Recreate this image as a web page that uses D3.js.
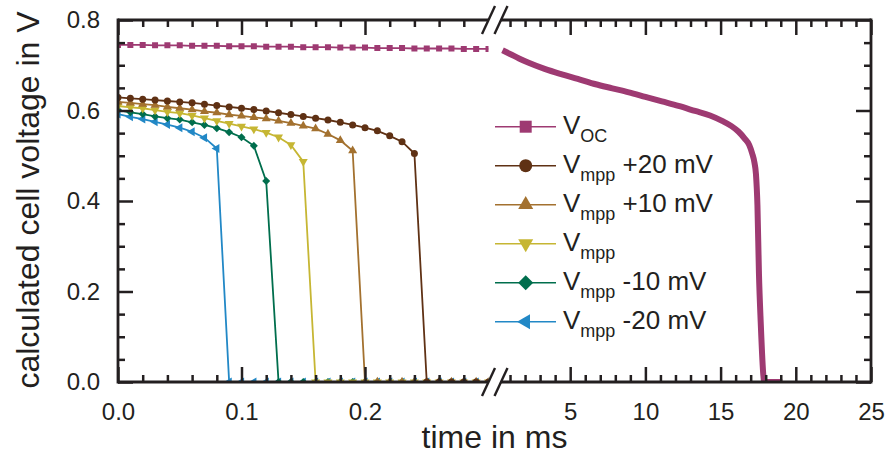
<!DOCTYPE html>
<html>
<head>
<meta charset="utf-8">
<script src="https://cdn.jsdelivr.net/npm/d3@7"></script>
<style>
  html, body { margin: 0; padding: 0; background: #fff; }
  svg { display: block; }
  text { font-family: "Liberation Sans", Arial, Helvetica, sans-serif; fill: #231f20; white-space: pre; }
</style>
</head>
<body>
<svg id="chart" width="890" height="457"></svg>
<script>
// ---- data -------------------------------------------------------------
// time grid of the short-time window (ms)
const tShort = [0.00, 0.01, 0.02, 0.03, 0.04, 0.05, 0.06, 0.07, 0.08, 0.09,
                0.10, 0.11, 0.12, 0.13, 0.14, 0.15, 0.16, 0.17, 0.18, 0.19,
                0.20, 0.21, 0.22, 0.23, 0.24, 0.25, 0.26, 0.27, 0.28, 0.29, 0.30];

// cell voltage (V) on the short-time grid
const vOC = [0.745, 0.745, 0.745, 0.744, 0.744, 0.744, 0.743, 0.743, 0.743, 0.742,
             0.742, 0.742, 0.741, 0.741, 0.741, 0.740, 0.740, 0.740, 0.739, 0.739,
             0.739, 0.738, 0.738, 0.738, 0.737, 0.737, 0.737, 0.737, 0.736, 0.736, 0.736];
const vMppP20 = [0.629, 0.627, 0.625, 0.623, 0.621, 0.619, 0.617, 0.614, 0.611, 0.608,
                 0.605, 0.602, 0.599, 0.595, 0.591, 0.587, 0.583, 0.579, 0.574, 0.568,
                 0.562, 0.555, 0.544, 0.531, 0.505, 0, 0, 0, 0, 0, 0];
const vMppP10 = [0.619, 0.617, 0.614, 0.612, 0.608, 0.605, 0.602, 0.598, 0.595, 0.591,
                 0.588, 0.585, 0.582, 0.577, 0.572, 0.566, 0.560, 0.548, 0.534, 0.511,
                 0, 0, 0, 0, 0, 0, 0, 0, 0, 0, 0];
const vMpp = [0.610, 0.607, 0.605, 0.601, 0.597, 0.594, 0.589, 0.583, 0.577, 0.571,
              0.565, 0.559, 0.551, 0.541, 0.524, 0.487, 0, 0, 0, 0,
              0, 0, 0, 0, 0, 0, 0, 0, 0, 0, 0];
const vMppM10 = [0.601, 0.596, 0.592, 0.587, 0.583, 0.580, 0.574, 0.568, 0.561, 0.552,
                 0.541, 0.522, 0.444, 0, 0, 0, 0, 0, 0, 0,
                 0, 0, 0, 0, 0, 0, 0, 0, 0, 0, 0];
const vMppM20 = [0.592, 0.586, 0.581, 0.575, 0.569, 0.562, 0.553, 0.540, 0.516, 0,
                 0, 0, 0, 0, 0, 0, 0, 0, 0, 0,
                 0, 0, 0, 0, 0, 0, 0, 0, 0, 0, 0];

// open-circuit voltage over the long-time window
const tLong = [0.5, 1.0, 1.6, 2.2, 3.3, 4.45, 5.5, 6.7, 7.8, 8.9, 10.0, 11.1, 12.2, 13.3, 14.3,
               15.1, 15.7, 16.2, 16.6, 16.9, 17.1, 17.25, 17.35, 17.45, 17.55, 17.67,
               17.85, 17.9, 19.1];
const vOCLong = [0.733, 0.725, 0.715, 0.706, 0.692, 0.680, 0.670, 0.658, 0.649, 0.640, 0.630,
                 0.620, 0.610, 0.599, 0.589, 0.577, 0.566, 0.553, 0.538, 0.524, 0.505,
                 0.485, 0.460, 0.390, 0.240, 0.130, 0.012, 0, 0];

// legend / series description
const seriesMain = ["V", "V", "V", "V", "V", "V"];
const seriesSub = ["OC", "mpp", "mpp", "mpp", "mpp", "mpp"];
const seriesSuffix = ["", " +20 mV", " +10 mV", "", " -10 mV", " -20 mV"];
const seriesColors = ["#9e3a72", "#5f3114", "#a3712f", "#c6b633", "#006e4d", "#2288c6"];
const seriesMarkers = ["square", "circle", "up", "down", "diamond", "left"];
const seriesValues = [vOC, vMppP20, vMppP10, vMpp, vMppM10, vMppM20];

// axis ticks
const yMajor = [0, 0.2, 0.4, 0.6, 0.8];
const yMinor = [0.05, 0.1, 0.15, 0.25, 0.3, 0.35, 0.45, 0.5, 0.55, 0.65, 0.7, 0.75];
const xShortMajor = [0, 0.1, 0.2];
const xShortMinor = [0.02, 0.04, 0.06, 0.08, 0.12, 0.14, 0.16, 0.18, 0.22, 0.24, 0.26, 0.28];
const xLongMajor = [5, 10, 15, 20, 25];
const xLongMinor = [1, 2, 3, 4, 6, 7, 8, 9, 11, 12, 13, 14, 16, 17, 18, 19, 21, 22, 23, 24];

// ---- layout -----------------------------------------------------------
const ink = "#231f20";
const pTop = 20, pBottom = 382, pLeft = 118, pRight = 871;
const breakL = 488.5, breakR = 501;

const svg = d3.select("#chart");
const y = d3.scaleLinear().domain([0, 0.8]).range([pBottom, pTop]);
const xS = d3.scaleLinear().domain([0, 0.3]).range([pLeft, breakL]);
const xL = d3.scaleLinear().domain([0.4, 25]).range([breakR, pRight]);

const defs = svg.append("defs");
defs.append("clipPath").attr("id", "clipS").append("rect")
  .attr("x", pLeft).attr("y", pTop - 10).attr("width", breakL - pLeft).attr("height", pBottom - pTop + 10);
defs.append("clipPath").attr("id", "clipL").append("rect")
  .attr("x", breakR).attr("y", pTop - 10).attr("width", pRight - breakR).attr("height", pBottom - pTop + 10);

// marker shapes
function markerPath(kind, s) {
  switch (kind) {
    case "square": return d3.symbol(d3.symbolSquare, s * s)();
    case "circle": return d3.symbol(d3.symbolCircle, Math.PI * s * s / 4)();
    case "diamond": return d3.symbol(d3.symbolSquare, s * s * 0.5)();
    default: return d3.symbol(d3.symbolTriangle, s * s * Math.sqrt(3) / 4)();
  }
}
function markerRotation(kind) {
  return { diamond: 45, down: 180, left: -90 }[kind] || 0;
}
const markerSize = { square: 6, circle: 7, up: 9, down: 9, diamond: 8, left: 9 };

// ---- series (short window) -------------------------------------------
const plotS = svg.append("g").attr("clip-path", "url(#clipS)");
const lineS = d3.line().x((d, i) => xS(tShort[i])).y(d => y(d));

function drawSeries(k) {
  const vals = seriesValues[k];
  const g = plotS.append("g");
  g.append("path").datum(vals)
    .attr("d", lineS).attr("fill", "none")
    .attr("stroke", seriesColors[k]).attr("stroke-width", 1.8);
  const kind = seriesMarkers[k];
  g.selectAll("path.mk").data(vals).join("path").attr("class", "mk")
    .attr("d", markerPath(kind, markerSize[kind]))
    .attr("transform", (d, i) => `translate(${xS(tShort[i])},${y(d)}) rotate(${markerRotation(kind)})`)
    .attr("fill", seriesColors[k]);
}
// draw from last to first so the upper curves sit on top
[5, 4, 3, 2, 1, 0].forEach(drawSeries);

// ---- open-circuit voltage (long window) ------------------------------
svg.append("g").attr("clip-path", "url(#clipL)")
  .append("path").datum(vOCLong)
  .attr("d", d3.line().x((d, i) => xL(tLong[i])).y(d => y(d)).curve(d3.curveMonotoneX))
  .attr("fill", "none").attr("stroke", seriesColors[0])
  .attr("stroke-width", 6).attr("stroke-linejoin", "round");

// ---- axes -------------------------------------------------------------
function styleAxis(g) {
  g.select(".domain").remove();
  g.attr("font-family", null).attr("font-size", null);
  g.selectAll(".tick line").attr("stroke", ink).attr("stroke-width", 2.5);
  g.selectAll(".tick text").attr("font-size", 24).attr("fill", ink);
}
function addAxis(gen, tx, ty) {
  svg.append("g").attr("transform", `translate(${tx},${ty})`).call(gen).call(styleAxis);
}
const noLabel = () => "";
const f1 = d3.format(".1f");

// left
addAxis(d3.axisLeft(y).tickValues(yMajor).tickSizeInner(-15).tickSizeOuter(0).tickPadding(18).tickFormat(f1), pLeft, 0);
addAxis(d3.axisLeft(y).tickValues(yMinor).tickSizeInner(-7).tickSizeOuter(0).tickFormat(noLabel), pLeft, 0);
// right
addAxis(d3.axisRight(y).tickValues(yMajor).tickSizeInner(-15).tickSizeOuter(0).tickFormat(noLabel), pRight, 0);
addAxis(d3.axisRight(y).tickValues(yMinor).tickSizeInner(-7).tickSizeOuter(0).tickFormat(noLabel), pRight, 0);
// bottom
addAxis(d3.axisBottom(xS).tickValues(xShortMajor).tickSizeInner(-15).tickSizeOuter(0).tickPadding(21).tickFormat(f1), 0, pBottom);
addAxis(d3.axisBottom(xS).tickValues(xShortMinor).tickSizeInner(-7).tickSizeOuter(0).tickFormat(noLabel), 0, pBottom);
addAxis(d3.axisBottom(xL).tickValues(xLongMajor).tickSizeInner(-15).tickSizeOuter(0).tickPadding(21).tickFormat(d3.format("d")), 0, pBottom);
addAxis(d3.axisBottom(xL).tickValues(xLongMinor).tickSizeInner(-7).tickSizeOuter(0).tickFormat(noLabel), 0, pBottom);
// top
addAxis(d3.axisTop(xS).tickValues(xShortMajor).tickSizeInner(-15).tickSizeOuter(0).tickFormat(noLabel), 0, pTop);
addAxis(d3.axisTop(xS).tickValues(xShortMinor).tickSizeInner(-7).tickSizeOuter(0).tickFormat(noLabel), 0, pTop);
addAxis(d3.axisTop(xL).tickValues(xLongMajor).tickSizeInner(-15).tickSizeOuter(0).tickFormat(noLabel), 0, pTop);
addAxis(d3.axisTop(xL).tickValues(xLongMinor).tickSizeInner(-7).tickSizeOuter(0).tickFormat(noLabel), 0, pTop);

// frame with the broken time axis
const frame = svg.append("g").attr("stroke", ink).attr("stroke-width", 2.8).attr("fill", "none");
frame.append("line").attr("x1", pLeft).attr("x2", pLeft).attr("y1", pTop - 1.4).attr("y2", pBottom + 1.4);
frame.append("line").attr("x1", pRight).attr("x2", pRight).attr("y1", pTop - 1.4).attr("y2", pBottom + 1.4);
[pTop, pBottom].forEach(yy => {
  frame.append("line").attr("x1", pLeft).attr("x2", breakL).attr("y1", yy).attr("y2", yy);
  frame.append("line").attr("x1", breakR).attr("x2", pRight).attr("y1", yy).attr("y2", yy);
  [breakL, breakR].forEach(bx => {
    frame.append("line").attr("stroke-width", 2.4)
      .attr("x1", bx - 6.5).attr("y1", yy + 14).attr("x2", bx + 6.5).attr("y2", yy - 14);
  });
});

// axis titles
svg.append("text").attr("x", (pLeft + pRight) / 2).attr("y", 448)
  .attr("text-anchor", "middle").attr("font-size", 32).text("time in ms");
svg.append("text").attr("transform", `translate(38.5,${(pTop + pBottom) / 2 - 1}) rotate(-90)`)
  .attr("text-anchor", "middle").attr("font-size", 32).text("calculated cell voltage in V");

// ---- legend -------------------------------------------------------------
const legendMarkerSize = { square: 12, circle: 13, up: 15, down: 15, diamond: 15, left: 15 };
const legend = svg.append("g");
seriesMain.forEach((m, k) => {
  const ry = 126.7 + k * 39;
  const g = legend.append("g").attr("transform", `translate(0,${ry})`);
  g.append("line").attr("x1", 495).attr("x2", 556).attr("y1", 0).attr("y2", 0)
    .attr("stroke", seriesColors[k]).attr("stroke-width", 1.6);
  const kind = seriesMarkers[k];
  g.append("path").attr("d", markerPath(kind, legendMarkerSize[kind]))
    .attr("transform", `translate(525.7,0) rotate(${markerRotation(kind)})`)
    .attr("fill", seriesColors[k]);
  const t = g.append("text").attr("x", 563).attr("y", 7.6).attr("font-size", 26);
  t.append("tspan").text(m);
  t.append("tspan").attr("font-size", 18).attr("dy", 8).text(seriesSub[k]);
  if (seriesSuffix[k]) t.append("tspan").attr("dy", -8).text(seriesSuffix[k]);
});
</script>
</body>
</html>
